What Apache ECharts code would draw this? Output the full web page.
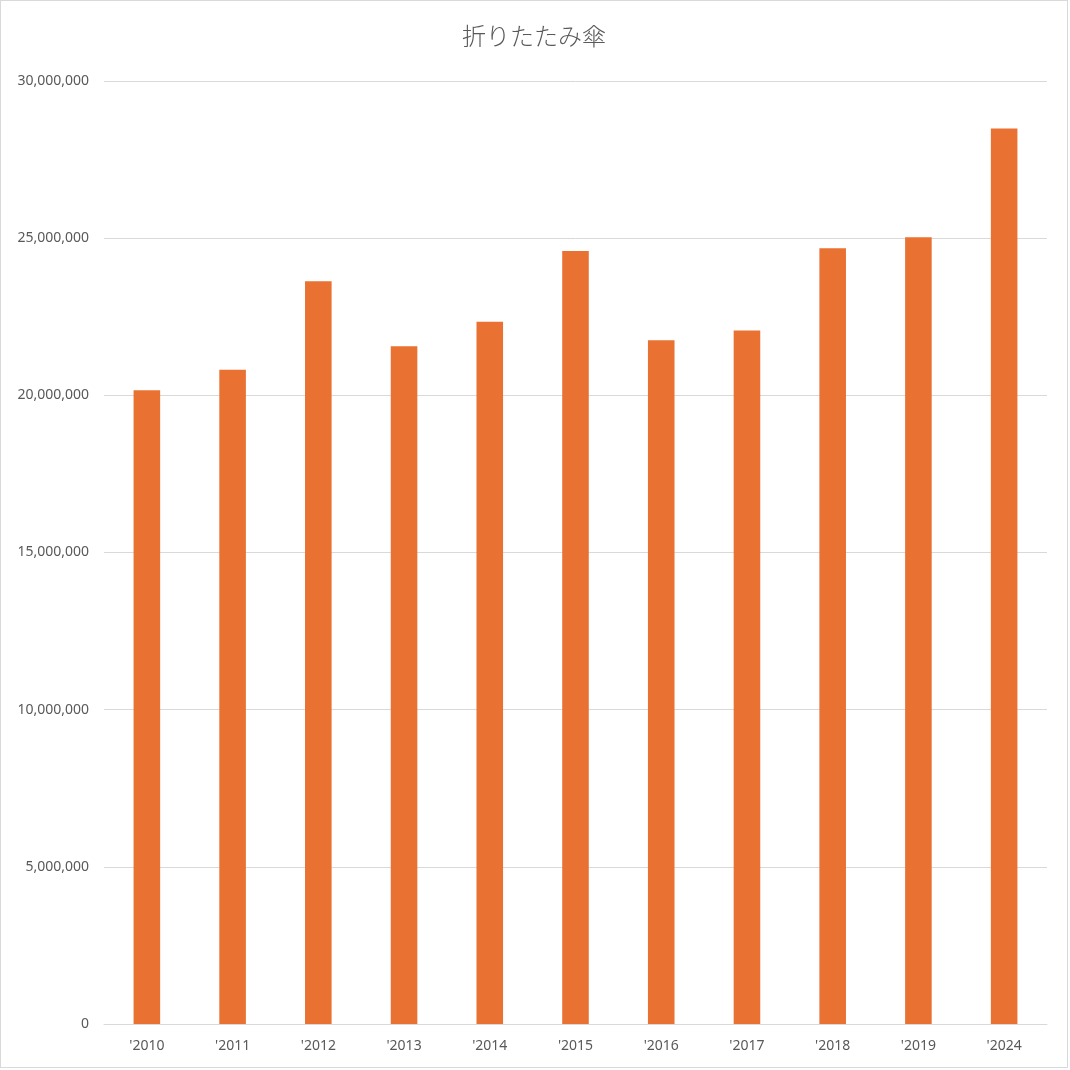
<!DOCTYPE html>
<html>
<head>
<meta charset="utf-8">
<script src="https://cdn.jsdelivr.net/npm/echarts@6/dist/echarts.min.js"></script>
<style>
  html, body { margin: 0; padding: 0; background: #fff; }
  #chart {
    position: absolute; left: 0; top: 0;
    width: 1066px; height: 1066px;
    border: 1px solid #d9d9d9;
  }
</style>
</head>
<body>
<div id="chart"></div>
<script>
// 年度
const years = ["'2010", "'2011", "'2012", "'2013", "'2014", "'2015", "'2016", "'2017", "'2018", "'2019", "'2024"]
// 数量
const values = [20160000, 20810000, 23630000, 21560000, 22340000, 24590000, 21750000, 22060000, 24680000, 25030000, 28490000]

const chart = echarts.init(document.getElementById('chart'))

const option = {
  animation: false,
  title: {
    text: '折りたたみ傘',
    left: 'center',
    top: 18,
    textStyle: {
      color: '#595959',
      fontSize: 24,
      fontWeight: 300,
      fontFamily: 'Noto Sans CJK JP'
    }
  },
  grid: {
    left: 103,
    right: 20,
    top: 80,
    bottom: 43
  },
  xAxis: {
    type: 'category',
    data: years,
    axisLine: { lineStyle: { color: '#d9d9d9' } },
    axisTick: { show: false },
    axisLabel: {
      color: '#595959',
      fontSize: 14,
      margin: 15,
      fontFamily: 'Noto Sans'
    }
  },
  yAxis: {
    type: 'value',
    min: 0,
    max: 30000000,
    interval: 5000000,
    axisLine: { show: false },
    axisTick: { show: false },
    splitLine: { lineStyle: { color: '#d9d9d9' } },
    axisLabel: {
      color: '#595959',
      fontSize: 14,
      margin: 15,
      fontFamily: 'Noto Sans',
      formatter: v => v.toLocaleString('en-US')
    }
  },
  series: [
    {
      type: 'bar',
      data: values,
      barWidth: '31%',
      itemStyle: { color: '#e97132' }
    }
  ]
}

chart.setOption(option)
</script>
</body>
</html>
